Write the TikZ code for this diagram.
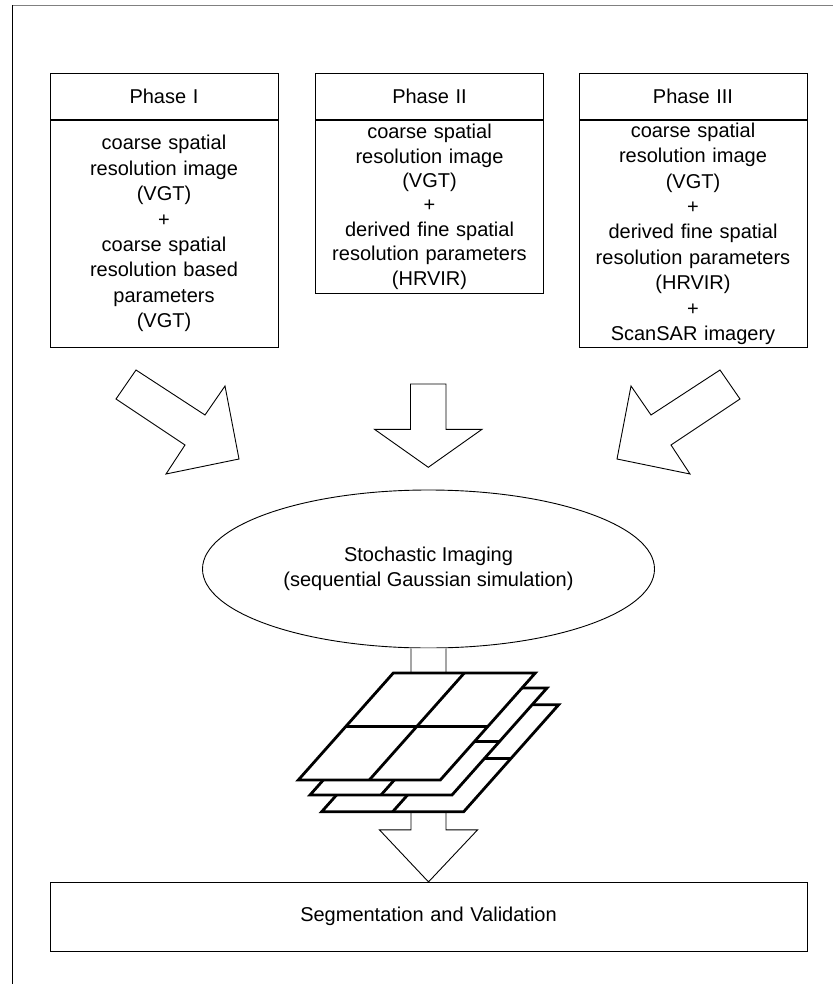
\documentclass[tikz,border=0pt]{standalone}
\usepackage{fontspec}
\setmainfont{Liberation Sans}
\usetikzlibrary{shapes.geometric,calc}
\begin{document}
\begin{tikzpicture}[x=1pt,y=-1pt,
  txt/.style={font=\fontsize{20}{25.4}\selectfont, align=center},
  thinline/.style={draw=black, line width=0.9pt},
  box/.style={rectangle, thinline, inner sep=0pt, minimum width=228pt, text width=220pt, txt},
  blockarrow/.style={thinline, fill=white, line join=miter},
  sheetline/.style={draw=black, line width=2.8pt, line join=miter},
  layersheet/.pic={
    \path[sheetline, fill=white] (0,0) -- (142,0) -- (237,-107) -- (95,-107) -- cycle;
    \draw[sheetline] (47.5,-53.5) -- (189.5,-53.5);
    \draw[sheetline] (71,0) -- (166,-107);
  }]
\useasboundingbox (0,0) rectangle (833,984);

% frame edges
\draw[line width=0.9pt, gray] (12,5.5) -- (833,5.5);
\draw[line width=0.9pt] (12,5.5) -- (12,984);

% phase headers
\node[box, minimum height=45.5pt] (h1) at (164,96.5) {Phase I};
\node[box, minimum height=45.5pt] (h2) at (429.5,96.5) {Phase II};
\node[box, minimum height=45.5pt] (h3) at (693,96.5) {Phase III};

% phase contents
\node[box, minimum height=227pt, anchor=north] (b1) at (h1.south)
  {coarse spatial\\resolution image\\(VGT)\\+\\coarse spatial\\resolution based\\parameters\\(VGT)};
\node[box, minimum height=173pt, anchor=north, font=\fontsize{20}{24.4}\selectfont] (b2) at (h2.south)
  {coarse spatial\\resolution image\\(VGT)\\+\\derived fine spatial\\resolution parameters\\(HRVIR)};
\node[box, minimum height=227pt, anchor=north] (b3) at (h3.south)
  {coarse spatial\\resolution image\\(VGT)\\+\\derived fine spatial\\resolution parameters\\(HRVIR)\\+\\ScanSAR imagery};

% block arrows converging on the simulation step
\draw[blockarrow] (136,370) -- (205,415) -- (225,386) -- (239,459) -- (166,474) -- (185,445) -- (116,399) -- cycle;
\draw[blockarrow] (720,370) -- (651,415) -- (631,386) -- (617,459) -- (690,474) -- (671,445) -- (740,399) -- cycle;
\draw[blockarrow] (410.5,384) -- (446,384) -- (446,429.3) -- (482,429.3) -- (428.3,467.3) -- (374.5,429.3) -- (410.5,429.3) -- cycle;

% simulation step
\node[ellipse, thinline, fill=white, minimum width=452pt, minimum height=158pt, inner sep=0pt, txt]
  (stoch) at (428.5,569) {Stochastic Imaging\\(sequential Gaussian simulation)};

% final step
\node[box, minimum width=757pt, text width=740pt, minimum height=68.7pt] (seg) at (428.5,916.7)
  {Segmentation and Validation};

% arrow from simulation to segmentation
\coordinate (hb) at ($(seg.north)+(0,-52)$);
\draw[blockarrow] ($(stoch.south)+(-17.5,0)$) -- ($(hb)+(-17.5,0)$) -- ($(hb)+(-49,0)$)
  -- (seg.north) -- ($(hb)+(49,0)$) -- ($(hb)+(17.5,0)$) -- ($(stoch.south)+(17.5,0)$);

% stack of simulated realisations
\pic (s3) at (321.7,811.7) {layersheet};
\pic (s2) at (310,795) {layersheet};
\pic (s1) at (298.3,780) {layersheet};
\end{tikzpicture}
\end{document}
